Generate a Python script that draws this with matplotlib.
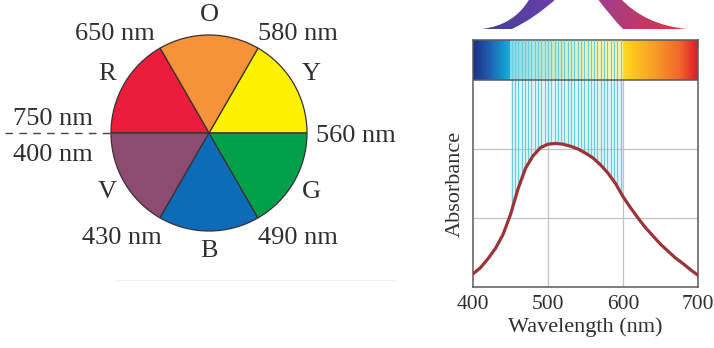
import numpy as np
import matplotlib
matplotlib.use("Agg")
import matplotlib.pyplot as plt
from matplotlib.colors import LinearSegmentedColormap
from matplotlib.patches import PathPatch, Rectangle
from matplotlib.path import Path

# colour wheel: six complementary hues, counter-clockwise from 3 o'clock
HUES = ["Y", "O", "R", "V", "B", "G"]
HUE_COLORS = ["#FFF200", "#F6923A", "#EC1C3C", "#8C4B70", "#0E6BB8", "#00A04B"]
SHARES = [1, 1, 1, 1, 1, 1]
# wavelength written at the start edge of each wedge
EDGE_LABELS = ["560 nm", "580 nm", "650 nm", "750 nm", "430 nm", "490 nm"]
WRAP_LABEL = "400 nm"

# absorption spectrum
WAVELENGTH = np.array([400, 410, 420, 430, 440, 450, 460, 470, 480, 490, 500,
                       510, 520, 530, 540, 550, 560, 570, 580, 590, 600,
                       610, 620, 630, 640, 650, 660, 670, 680, 690, 700])
ABSORBANCE = np.array([0.19, 0.28, 0.41, 0.56, 0.76, 1.05, 1.42, 1.72, 1.90, 2.02, 2.07,
                       2.08, 2.07, 2.04, 2.00, 1.94, 1.87, 1.77, 1.65, 1.50, 1.31,
                       1.15, 1.00, 0.86, 0.74, 0.62, 0.52, 0.42, 0.34, 0.25, 0.17])
ABSORBED = (450, 600)
XTICKS = [400, 500, 600, 700]

INK = "#2f2f2f"
FRAME = "#5a5a5a"
SERIF = ["Liberation Serif", "DejaVu Serif"]
plt.rcParams["font.family"] = SERIF

W, H = 714, 348
fig = plt.figure(figsize=(W / 100, H / 100), dpi=100)

# ---- full-figure layer in pixel units (y up) for the wheel and the light beams
ov = fig.add_axes([0, 0, 1, 1])
ov.set_axis_off()

cx, cy, R = 209, H - 133, 98
ov.pie(SHARES, colors=HUE_COLORS, startangle=0, counterclock=True,
       center=(cx, cy), radius=R,
       wedgeprops=dict(edgecolor="#3a3030", linewidth=0.9))

fs = 19
for k, letter in enumerate(HUES):
    a = np.deg2rad(30 + 60 * k)
    ov.text(cx + 118 * np.cos(a), cy + 118 * np.sin(a), letter, fontsize=fs,
            color=INK, ha="center", va="center")

# offsets of each edge label from the rim point: (dx, dy, ha)
edge_pos = {0: (9, -8.5, "left"), 60: (0, 8, "left"), 120: (-5, 8, "right"),
            180: (-18, 8, "right"), 240: (2, -26, "right"), 300: (0, -26, "left")}
for k, lab in enumerate(EDGE_LABELS):
    ang = 60 * k
    a = np.deg2rad(ang)
    px, py = cx + R * np.cos(a), cy + R * np.sin(a)
    dx, dy, ha = edge_pos[ang]
    ov.text(px + dx, py + dy, lab, fontsize=fs, color=INK, ha=ha, va="baseline")
ov.text(cx - R - 18, cy - 28, WRAP_LABEL, fontsize=fs, color=INK,
        ha="right", va="baseline")
ov.plot([5, cx - R], [cy, cy], color="#444444", lw=1.0, ls=(0, (5.5, 4.5)))
ov.plot([115, 395], [H - 280, H - 280], color="#f0f0f0", lw=0.8)


def beam(verts, codes, c0, c1, extent):
    patch = PathPatch(Path(verts, codes), fc="none", ec="none")
    ov.add_patch(patch)
    grad = np.linspace(0, 1, 256).reshape(1, -1)
    cmap = LinearSegmentedColormap.from_list("beam", [c0, c1])
    im = ov.imshow(grad, extent=extent, cmap=cmap, aspect="auto",
                   origin="lower", zorder=2)
    im.set_clip_path(patch)


M, C, L, Z = Path.MOVETO, Path.CURVE3, Path.LINETO, Path.CLOSEPOLY
beam([(482, H - 29), (515, H - 25), (530, H + 2), (557, H + 2),
      (535, H - 18), (512, H - 29), (482, H - 29)],
     [M, C, C, L, C, C, Z], "#39409A", "#7040A6", [478, 560, H - 32, H + 2])
beam([(597, H + 2), (612, H - 18), (623, H - 29), (687, H - 29),
      (645, H - 25), (620, H + 2), (597, H + 2)],
     [M, C, C, L, C, C, Z], "#9A3F92", "#E5333A", [594, 690, H - 32, H + 2])

ov.set_xlim(0, W)
ov.set_ylim(0, H)

# ---- absorbance panel
ax = fig.add_axes([473 / W, (H - 287) / H, 225 / W, 247 / H])
top = 3.0
bar_top = 3.58

stops = [(400, "#1B2F86"), (420, "#1F5AAE"), (440, "#1497CC"), (450, "#19B0D8"),
         (480, "#5CCDC0"), (520, "#A6DC86"), (560, "#E6EA62"), (595, "#FBEA4A"),
         (605, "#FFD21C"), (640, "#F9A126"), (675, "#F16A2A"), (692, "#E8332A"),
         (700, "#C9282C")]
spec = LinearSegmentedColormap.from_list(
    "spectrum", [((w - 400) / 300, c) for w, c in stops])
ax.imshow(np.linspace(0, 1, 512).reshape(1, -1), extent=[400, 700, top, bar_top],
          cmap=spec, aspect="auto", zorder=2)
ax.add_patch(Rectangle((ABSORBED[0], top), ABSORBED[1] - ABSORBED[0], bar_top - top,
                       fc="white", alpha=0.5, lw=0, zorder=2.5))

# grid
ax.vlines([500, 600], 0, top, color="#c2c2c2", lw=0.9, zorder=1.2)
ax.hlines([1, 2], 400, 700, color="#c2c2c2", lw=0.9, zorder=1.2)

# absorbed band, hatched with thin cyan rules down to the curve
band = (WAVELENGTH >= ABSORBED[0]) & (WAVELENGTH <= ABSORBED[1])
ax.fill_between(WAVELENGTH, ABSORBANCE, top, where=band, color="#def5f8",
                lw=0, zorder=1)
xs = np.arange(ABSORBED[0] + 1.5, ABSORBED[1], 4.4)
ax.vlines(xs, np.interp(xs, WAVELENGTH, ABSORBANCE), bar_top, color="#6ccbd8",
          lw=0.8, zorder=3)

ax.plot(WAVELENGTH, ABSORBANCE, color="#9A3438", lw=2.3, zorder=4,
        solid_joinstyle="round")
ax.axhline(top, color=FRAME, lw=1.1, zorder=5)

ax.set_xlim(400, 700)
ax.set_ylim(0, bar_top)
ax.set_xticks(XTICKS)
ax.set_yticks([])
ax.tick_params(axis="x", length=0, pad=6, labelsize=15.5, labelcolor=INK)
for s in ax.spines.values():
    s.set_color(FRAME)
    s.set_linewidth(1.1)
ax.set_xlabel("Wavelength (nm)", fontsize=16, color=INK, labelpad=2)
ax.set_ylabel("Absorbance", fontsize=16, color=INK)
ax.yaxis.set_label_coords(-0.035, 1.5 / bar_top)

fig.savefig("out.png", dpi=100)
